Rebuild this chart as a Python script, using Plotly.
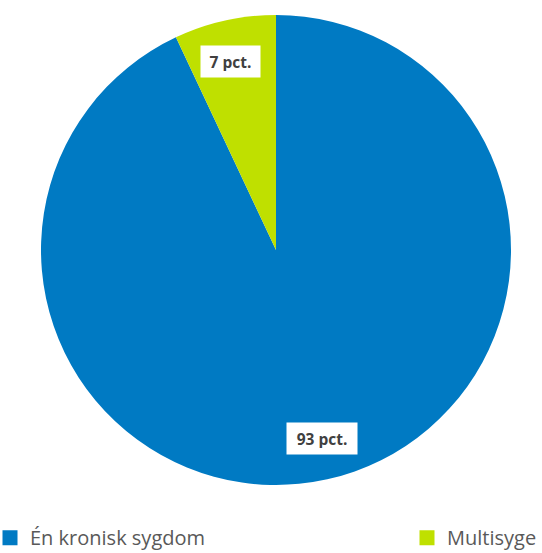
import math
import plotly.graph_objects as go

categories = ["Én kronisk sygdom", "Multisyge"]
values = [93, 7]
labels_text = ["93 pct.", "7 pct."]
colors = ["#007AC3", "#BFE000"]

LEG_FONT = dict(family="Open Sans, Liberation Sans, sans-serif", size=20, color="#595959")

fig = go.Figure(go.Pie(
    labels=categories,
    values=values,
    sort=False,
    direction="clockwise",
    rotation=0,
    marker=dict(colors=colors, line=dict(width=0)),
    textinfo="none",
    hoverinfo="label+percent",
    domain=dict(x=[0, 1], y=[0, 1]),
    showlegend=False,
))

# legend-only entries (one per legend so they can sit at opposite sides)
for i, (cat, col) in enumerate(zip(categories, colors)):
    fig.add_trace(go.Scatter(
        x=[None], y=[None], mode="markers", name=cat,
        marker=dict(symbol="square", size=15, color=col),
        legend="legend" if i == 0 else "legend2",
        showlegend=True, hoverinfo="skip",
    ))

total = sum(values)
cum = 0
for v, t in zip(values, labels_text):
    mid = (cum + v / 2) / total * 2 * math.pi
    cum += v
    r = 0.5 * 0.895
    fig.add_annotation(
        x=0.5 + r * math.sin(mid), y=0.5 + r * math.cos(mid),
        xref="paper", yref="paper", text="<b>" + t + "</b>",
        showarrow=False, bgcolor="white", borderpad=6,
        width=len(t) * 11 - 19, height=19,
        font=dict(family="Open Sans, Liberation Sans, sans-serif", size=15.5, color="#404040"),
    )

fig.update_layout(
    width=542, height=553,
    margin=dict(l=41, r=31, t=15, b=68, autoexpand=False),
    paper_bgcolor="white", plot_bgcolor="white",
    xaxis=dict(visible=False), yaxis=dict(visible=False),
    legend=dict(
        xref="paper", yref="container",
        x=-0.1085, xanchor="left", y=0.063, yanchor="top",
        font=LEG_FONT, itemsizing="trace", bgcolor="rgba(0,0,0,0)",
    ),
    legend2=dict(
        xref="container", yref="container",
        x=1.0, xanchor="right", y=0.063, yanchor="top",
        font=LEG_FONT, itemsizing="trace", bgcolor="rgba(0,0,0,0)",
    ),
)

fig.write_html("out.html", post_script="document.body.style.margin='0';",
               config={"displayModeBar": False})
